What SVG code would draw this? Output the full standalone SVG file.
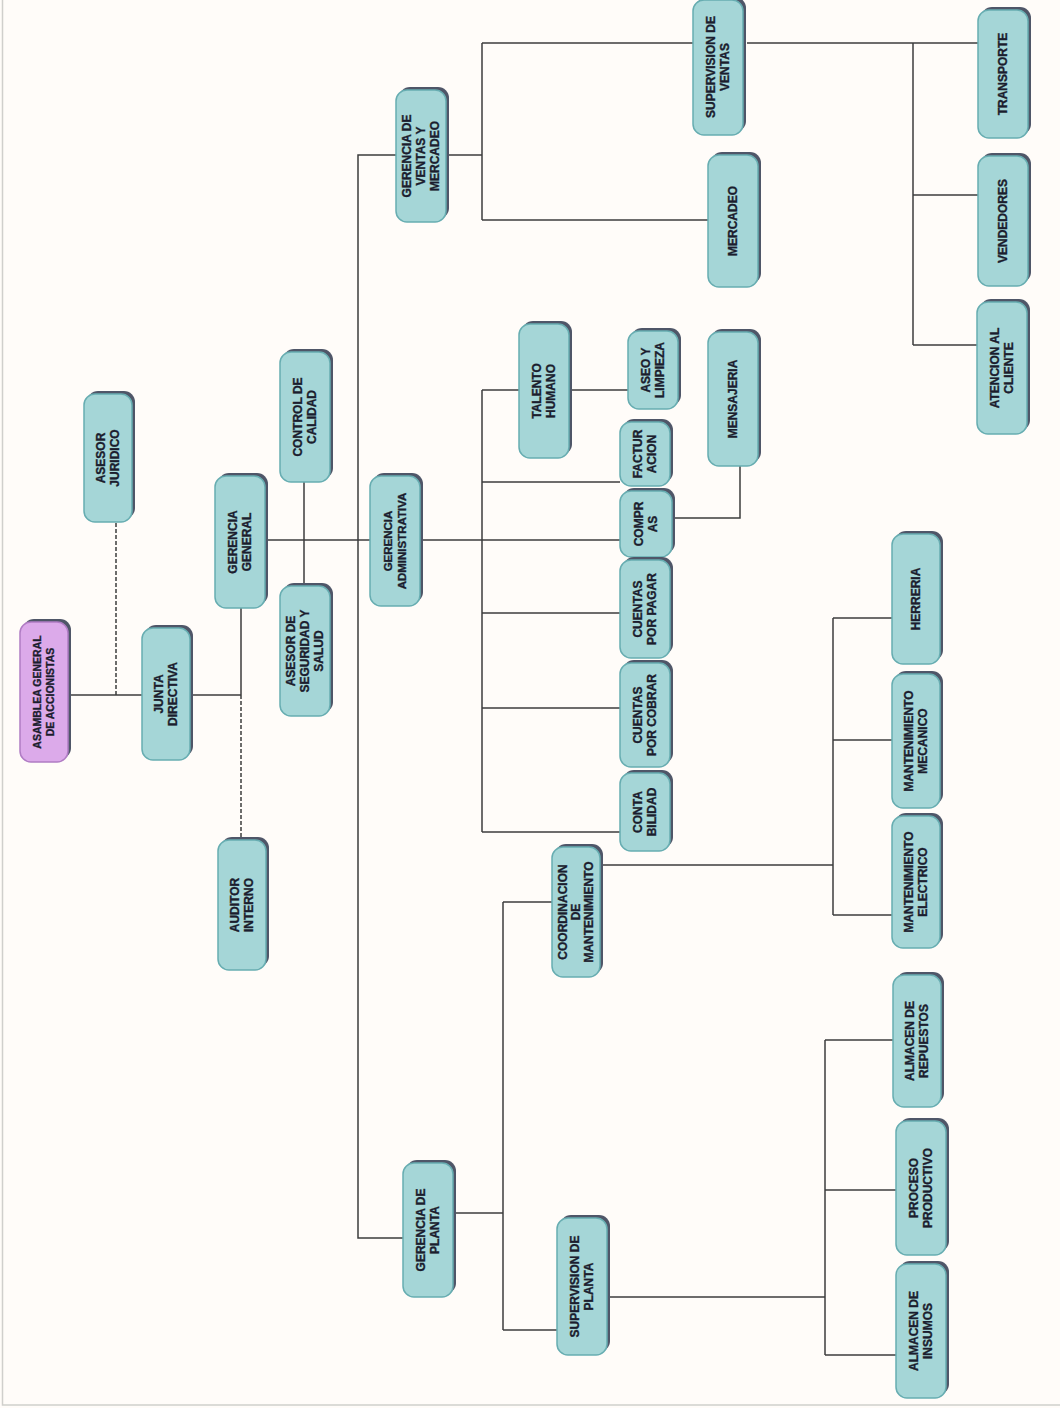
<svg xmlns="http://www.w3.org/2000/svg" width="1060" height="1408" viewBox="0 0 1060 1408">
<style>
.sh{fill:#4f5668}
.bx{fill:#a5d6d7;stroke:#67adb1;stroke-width:1.5}
.pur{fill:#dcaaea;stroke:#b07cc4}
.t{font-family:"Liberation Sans",Arial,sans-serif;font-weight:bold;font-size:12px;fill:#1b1d2e;stroke:#1b1d2e;stroke-width:0.35;text-anchor:middle}
.ts{font-size:10.5px}
.ln{fill:none;stroke:#3d3d3d;stroke-width:1.5}
.dash{stroke-dasharray:4 2}
</style>
<rect x="0" y="0" width="1060" height="1408" fill="#fffcf9"/>
<path d="M2.5 0 V1405 H1060" fill="none" stroke="#d0cfcc" stroke-width="1.5"/>
<g id="connectors">
<path class="ln" d="M70 695 H142"/>
<path class="ln dash" d="M116 523 V695"/>
<path class="ln" d="M190 695 H241"/>
<path class="ln" d="M241 608 V695"/>
<path class="ln dash" d="M241 695 V840"/>
<path class="ln" d="M265 540 H370"/>
<path class="ln" d="M304 482 V586"/>
<path class="ln" d="M396 155 H358 V1238 H403"/>
<path class="ln" d="M448 155 H482"/>
<path class="ln" d="M482 43 V220"/>
<path class="ln" d="M482 43 H693"/>
<path class="ln" d="M482 220 H708"/>
<path class="ln" d="M747 43 H978"/>
<path class="ln" d="M913 43 V345"/>
<path class="ln" d="M913 195 H978"/>
<path class="ln" d="M913 345 H977"/>
<path class="ln" d="M420 540 H620"/>
<path class="ln" d="M482 390 V832"/>
<path class="ln" d="M482 390 H519"/>
<path class="ln" d="M482 482 H620"/>
<path class="ln" d="M482 613 H620"/>
<path class="ln" d="M482 708 H620"/>
<path class="ln" d="M482 832 H620"/>
<path class="ln" d="M569 390 H628"/>
<path class="ln" d="M672 518 H740 V466"/>
<path class="ln" d="M453 1213 H503"/>
<path class="ln" d="M503 902 V1330"/>
<path class="ln" d="M503 902 H552"/>
<path class="ln" d="M503 1330 H557"/>
<path class="ln" d="M600 865 H833"/>
<path class="ln" d="M833 618 V915"/>
<path class="ln" d="M833 618 H892"/>
<path class="ln" d="M833 740 H892"/>
<path class="ln" d="M833 915 H892"/>
<path class="ln" d="M607 1297 H825"/>
<path class="ln" d="M825 1040 V1355"/>
<path class="ln" d="M825 1040 H893"/>
<path class="ln" d="M825 1190 H896"/>
<path class="ln" d="M825 1355 H896"/>
</g>
<g id="n-asamblea"><rect class="sh" x="23" y="619" width="48" height="140" rx="11"/><rect class="bx pur" x="20" y="622" width="48" height="140" rx="11"/><text class="t ts" transform="translate(44,692) rotate(-90)"><tspan x="0" y="-2.7">ASAMBLEA GENERAL</tspan><tspan x="0" y="10.3">DE ACCIONISTAS</tspan></text></g>
<g id="n-junta"><rect class="sh" x="145" y="625" width="48" height="132" rx="11"/><rect class="bx" x="142" y="628" width="48" height="132" rx="11"/><text class="t" transform="translate(166,694) rotate(-90)"><tspan x="0" y="-2.7">JUNTA</tspan><tspan x="0" y="11.3">DIRECTIVA</tspan></text></g>
<g id="n-juridico"><rect class="sh" x="87" y="391" width="48" height="128" rx="11"/><rect class="bx" x="84" y="394" width="48" height="128" rx="11"/><text class="t" transform="translate(108,458) rotate(-90)"><tspan x="0" y="-2.7">ASESOR</tspan><tspan x="0" y="11.3">JURIDICO</tspan></text></g>
<g id="n-gerencia-general"><rect class="sh" x="218" y="473" width="50" height="132" rx="11"/><rect class="bx" x="215" y="476" width="50" height="132" rx="11"/><text class="t" transform="translate(240,542) rotate(-90)"><tspan x="0" y="-2.7">GERENCIA</tspan><tspan x="0" y="11.3">GENERAL</tspan></text></g>
<g id="n-control"><rect class="sh" x="283" y="349" width="50" height="130" rx="11"/><rect class="bx" x="280" y="352" width="50" height="130" rx="11"/><text class="t" transform="translate(305,417) rotate(-90)"><tspan x="0" y="-2.7">CONTROL DE</tspan><tspan x="0" y="11.3">CALIDAD</tspan></text></g>
<g id="n-seguridad"><rect class="sh" x="283" y="583" width="50" height="130" rx="11"/><rect class="bx" x="280" y="586" width="50" height="130" rx="11"/><text class="t" transform="translate(305,651) rotate(-90)"><tspan x="0" y="-9.7">ASESOR DE</tspan><tspan x="0" y="4.3">SEGURIDAD Y</tspan><tspan x="0" y="18.3">SALUD</tspan></text></g>
<g id="n-auditor"><rect class="sh" x="221" y="837" width="48" height="130" rx="11"/><rect class="bx" x="218" y="840" width="48" height="130" rx="11"/><text class="t" transform="translate(242,905) rotate(-90)"><tspan x="0" y="-2.7">AUDITOR</tspan><tspan x="0" y="11.3">INTERNO</tspan></text></g>
<g id="n-gerencia-admin"><rect class="sh" x="373" y="473" width="50" height="130" rx="11"/><rect class="bx" x="370" y="476" width="50" height="130" rx="11"/><text class="t" style="font-size:11.5px" transform="translate(395,541) rotate(-90)"><tspan x="0" y="-2.8">GERENCIA</tspan><tspan x="0" y="11.2">ADMINISTRATIVA</tspan></text></g>
<g id="n-gerencia-ventas"><rect class="sh" x="399" y="87" width="50" height="132" rx="11"/><rect class="bx" x="396" y="90" width="50" height="132" rx="11"/><text class="t" transform="translate(421,156) rotate(-90)"><tspan x="0" y="-9.7">GERENCIA DE</tspan><tspan x="0" y="4.3">VENTAS Y</tspan><tspan x="0" y="18.3">MERCADEO</tspan></text></g>
<g id="n-supervision-ventas"><rect class="sh" x="696" y="-3" width="50" height="135" rx="11"/><rect class="bx" x="693" y="0" width="50" height="135" rx="11"/><text class="t" transform="translate(718,67) rotate(-90)"><tspan x="0" y="-2.7">SUPERVISION DE</tspan><tspan x="0" y="11.3">VENTAS</tspan></text></g>
<g id="n-mercadeo"><rect class="sh" x="711" y="152" width="50" height="132" rx="11"/><rect class="bx" x="708" y="155" width="50" height="132" rx="11"/><text class="t" transform="translate(733,221) rotate(-90)"><tspan x="0" y="4.3">MERCADEO</tspan></text></g>
<g id="n-transporte"><rect class="sh" x="981" y="7" width="50" height="128" rx="11"/><rect class="bx" x="978" y="10" width="50" height="128" rx="11"/><text class="t" transform="translate(1003,74) rotate(-90)"><tspan x="0" y="4.3">TRANSPORTE</tspan></text></g>
<g id="n-vendedores"><rect class="sh" x="981" y="153" width="50" height="130" rx="11"/><rect class="bx" x="978" y="156" width="50" height="130" rx="11"/><text class="t" transform="translate(1003,221) rotate(-90)"><tspan x="0" y="4.3">VENDEDORES</tspan></text></g>
<g id="n-atencion"><rect class="sh" x="980" y="299" width="50" height="132" rx="11"/><rect class="bx" x="977" y="302" width="50" height="132" rx="11"/><text class="t" transform="translate(1002,368) rotate(-90)"><tspan x="0" y="-2.7">ATENCION AL</tspan><tspan x="0" y="11.3">CLIENTE</tspan></text></g>
<g id="n-talento"><rect class="sh" x="522" y="321" width="50" height="134" rx="11"/><rect class="bx" x="519" y="324" width="50" height="134" rx="11"/><text class="t" transform="translate(544,391) rotate(-90)"><tspan x="0" y="-2.7">TALENTO</tspan><tspan x="0" y="11.3">HUMANO</tspan></text></g>
<g id="n-aseo"><rect class="sh" x="631" y="328" width="50" height="78" rx="11"/><rect class="bx" x="628" y="331" width="50" height="78" rx="11"/><text class="t" transform="translate(653,370) rotate(-90)"><tspan x="0" y="-2.7">ASEO Y</tspan><tspan x="0" y="11.3">LIMPIEZA</tspan></text></g>
<g id="n-mensajeria"><rect class="sh" x="711" y="329" width="50" height="134" rx="11"/><rect class="bx" x="708" y="332" width="50" height="134" rx="11"/><text class="t" transform="translate(733,399) rotate(-90)"><tspan x="0" y="4.3">MENSAJERIA</tspan></text></g>
<g id="n-facturacion"><rect class="sh" x="623" y="419" width="50" height="64" rx="11"/><rect class="bx" x="620" y="422" width="50" height="64" rx="11"/><text class="t" transform="translate(645,454) rotate(-90)"><tspan x="0" y="-2.7">FACTUR</tspan><tspan x="0" y="11.3">ACION</tspan></text></g>
<g id="n-compras"><rect class="sh" x="623" y="488" width="52" height="66" rx="11"/><rect class="bx" x="620" y="491" width="52" height="66" rx="11"/><text class="t" transform="translate(646,524) rotate(-90)"><tspan x="0" y="-2.7">COMPR</tspan><tspan x="0" y="11.3">AS</tspan></text></g>
<g id="n-cuentas-pagar"><rect class="sh" x="623" y="557" width="50" height="98" rx="11"/><rect class="bx" x="620" y="560" width="50" height="98" rx="11"/><text class="t" transform="translate(645,609) rotate(-90)"><tspan x="0" y="-2.7">CUENTAS</tspan><tspan x="0" y="11.3">POR PAGAR</tspan></text></g>
<g id="n-cuentas-cobrar"><rect class="sh" x="623" y="660" width="50" height="104" rx="11"/><rect class="bx" x="620" y="663" width="50" height="104" rx="11"/><text class="t" transform="translate(645,715) rotate(-90)"><tspan x="0" y="-2.7">CUENTAS</tspan><tspan x="0" y="11.3">POR COBRAR</tspan></text></g>
<g id="n-contabilidad"><rect class="sh" x="623" y="770" width="50" height="78" rx="11"/><rect class="bx" x="620" y="773" width="50" height="78" rx="11"/><text class="t" transform="translate(645,812) rotate(-90)"><tspan x="0" y="-2.7">CONTA</tspan><tspan x="0" y="11.3">BILIDAD</tspan></text></g>
<g id="n-coordinacion"><rect class="sh" x="555" y="844" width="48" height="130" rx="11"/><rect class="bx" x="552" y="847" width="48" height="130" rx="11"/><text class="t" transform="translate(576,912) rotate(-90)"><tspan x="0" y="-8.7">COORDINACION</tspan><tspan x="0" y="4.3">DE</tspan><tspan x="0" y="17.3">MANTENIMIENTO</tspan></text></g>
<g id="n-herreria"><rect class="sh" x="895" y="531" width="48" height="130" rx="11"/><rect class="bx" x="892" y="534" width="48" height="130" rx="11"/><text class="t" transform="translate(916,599) rotate(-90)"><tspan x="0" y="4.3">HERRERIA</tspan></text></g>
<g id="n-mecanico"><rect class="sh" x="895" y="671" width="48" height="134" rx="11"/><rect class="bx" x="892" y="674" width="48" height="134" rx="11"/><text class="t" transform="translate(916,741) rotate(-90)"><tspan x="0" y="-2.7">MANTENIMIENTO</tspan><tspan x="0" y="11.3">MECANICO</tspan></text></g>
<g id="n-electrico"><rect class="sh" x="895" y="813" width="48" height="132" rx="11"/><rect class="bx" x="892" y="816" width="48" height="132" rx="11"/><text class="t" transform="translate(916,882) rotate(-90)"><tspan x="0" y="-2.7">MANTENIMIENTO</tspan><tspan x="0" y="11.3">ELECTRICO</tspan></text></g>
<g id="n-repuestos"><rect class="sh" x="896" y="972" width="48" height="132" rx="11"/><rect class="bx" x="893" y="975" width="48" height="132" rx="11"/><text class="t" transform="translate(917,1041) rotate(-90)"><tspan x="0" y="-2.7">ALMACEN DE</tspan><tspan x="0" y="11.3">REPUESTOS</tspan></text></g>
<g id="n-proceso"><rect class="sh" x="899" y="1118" width="50" height="134" rx="11"/><rect class="bx" x="896" y="1121" width="50" height="134" rx="11"/><text class="t" transform="translate(921,1188) rotate(-90)"><tspan x="0" y="-2.7">PROCESO</tspan><tspan x="0" y="11.3">PRODUCTIVO</tspan></text></g>
<g id="n-insumos"><rect class="sh" x="899" y="1261" width="50" height="134" rx="11"/><rect class="bx" x="896" y="1264" width="50" height="134" rx="11"/><text class="t" transform="translate(921,1331) rotate(-90)"><tspan x="0" y="-2.7">ALMACEN DE</tspan><tspan x="0" y="11.3">INSUMOS</tspan></text></g>
<g id="n-gerencia-planta"><rect class="sh" x="406" y="1160" width="50" height="134" rx="11"/><rect class="bx" x="403" y="1163" width="50" height="134" rx="11"/><text class="t" transform="translate(428,1230) rotate(-90)"><tspan x="0" y="-2.7">GERENCIA DE</tspan><tspan x="0" y="11.3">PLANTA</tspan></text></g>
<g id="n-supervision-planta"><rect class="sh" x="560" y="1215" width="50" height="137" rx="11"/><rect class="bx" x="557" y="1218" width="50" height="137" rx="11"/><text class="t" transform="translate(582,1286.5) rotate(-90)"><tspan x="0" y="-2.7">SUPERVISION DE</tspan><tspan x="0" y="11.3">PLANTA</tspan></text></g>
</svg>
